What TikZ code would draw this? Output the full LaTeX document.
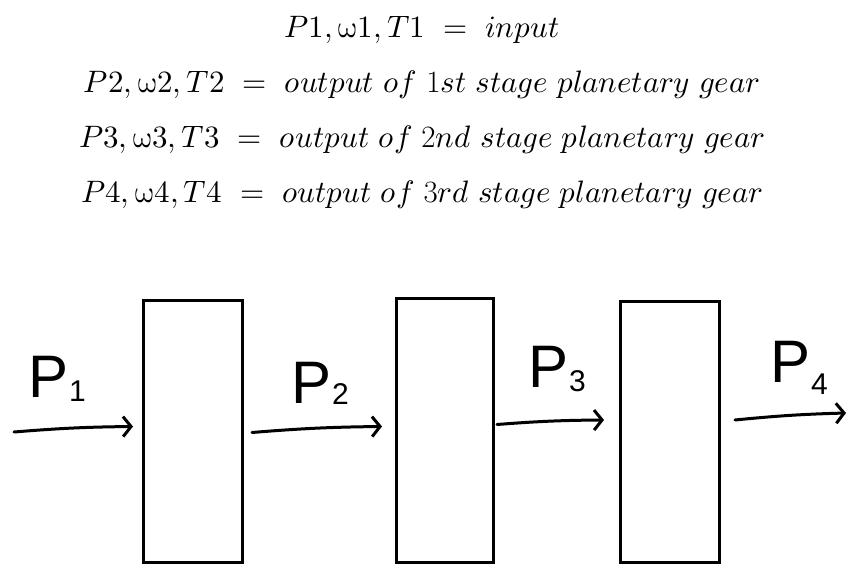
\documentclass[tikz,border=0pt]{standalone}
\usepackage{fontspec}
\usepackage{unicode-math}
\setmathfont{Latin Modern Math}
\newfontfamily\hand{Liberation Sans}
\usetikzlibrary{arrows.meta}
\tikzset{
  gearbox/.style={draw=black, line width=3pt, inner sep=0pt, outer sep=0pt, minimum width=97pt},
  flow/.style={line width=3pt, line cap=round, -{Straight Barb[length=8pt,width=20pt,line width=3pt]}},
  eqline/.style={anchor=base, font=\fontsize{31}{36}\selectfont},
  plabel/.style={font=\hand\fontsize{60}{60}\selectfont, inner sep=0pt, anchor=base west}
}
\newcommand{\hsub}[2][-4pt]{\kern1pt\raisebox{#1}{\fontsize{30}{30}\selectfont #2}}
\begin{document}
\begin{tikzpicture}[x=1pt,y=-1pt]
\useasboundingbox (0,0) rectangle (847,564);
% equations
\node[eqline] (e1) at (422,38) {$P1,\upomega1,T1\ =\ input$};
\node[eqline] (e2) at (422,93) {$P2,\upomega2,T2\ =\ output\ of\ \mathrm{1}st\ stage\ planetary\ gear$};
\node[eqline] (e3) at (422,148) {$P3,\upomega3,T3\ =\ output\ of\ \mathrm{2}nd\ stage\ planetary\ gear$};
\node[eqline] (e4) at (422,203) {$P4,\upomega4,T4\ =\ output\ of\ \mathrm{3}rd\ stage\ planetary\ gear$};
% boxes
\node[gearbox, minimum width=99pt, minimum height=261pt] (b1) at (192.5,431.5) {};
\node[gearbox, minimum width=97pt, minimum height=263pt] (b2) at (444.5,430.5) {};
\node[gearbox, minimum width=99pt, minimum height=260pt] (b3) at (669.5,432) {};
% free ends
\coordinate (in) at (14,432);
\coordinate (out) at (846,413);
% arrows
\draw[flow] (in) to[bend left=2] ([xshift=-10pt,yshift=5pt]b1.west);
\draw[flow] ([xshift=10pt,yshift=-1pt]b1.east) to[bend left=2] ([xshift=-14pt,yshift=4pt]b2.west);
\draw[flow] ([xshift=4pt,yshift=6pt]b2.east) to[bend left=2] ([xshift=-16pt,yshift=12pt]b3.west);
\draw[flow] ([xshift=16pt,yshift=12pt]b3.east) to[bend left=2] (out);
% labels
\node[plabel] (p1) at (28,397) {P\hsub{1}};
\node[plabel] (p2) at (291,403) {P\hsub[-1pt]{2}};
\node[plabel] (p3) at (528,388) {P\hsub{3}};
\node[plabel] (p4) at (770,383) {P\hsub[-12pt]{4}};
\end{tikzpicture}
\end{document}
